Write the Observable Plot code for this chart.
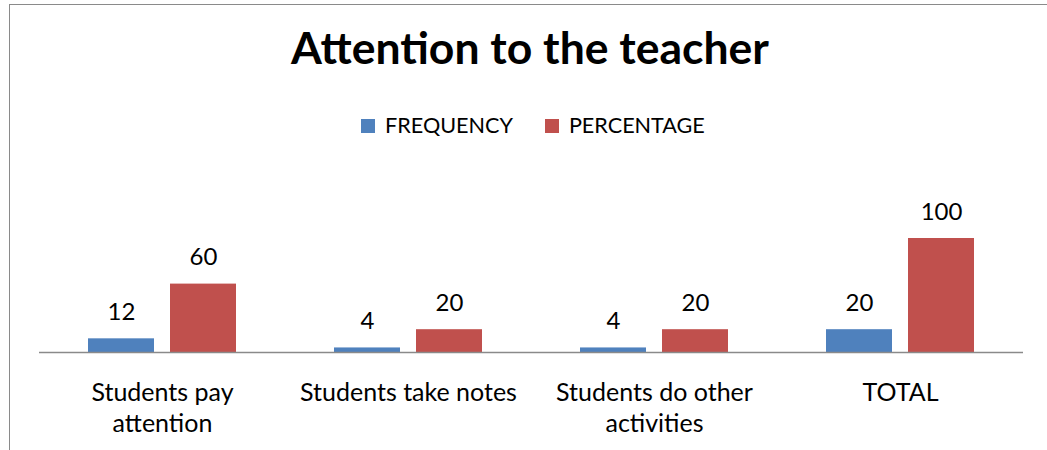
<!DOCTYPE html>
<html>
<head>
<meta charset="utf-8">
<script src="https://cdn.jsdelivr.net/npm/d3@7"></script>
<script src="https://cdn.jsdelivr.net/npm/@observablehq/plot@0.6"></script>
<style>
  html, body { margin:0; padding:0; background:#fff; overflow:hidden; width:1047px; height:450px; }
  #frame { position:absolute; left:9px; top:4px; width:1100px; height:520px; border:1px solid #8a8a8a; box-sizing:border-box; }
  #title { position:absolute; left:0; top:20px; width:1060px; text-align:center; font-family:Lato, sans-serif; font-weight:bold; font-size:44.5px; line-height:1.2; color:#000; }
  #legend { position:absolute; left:361px; top:113px; display:flex; align-items:center; font-family:Lato, sans-serif; font-size:21.6px; line-height:1.2; color:#000; white-space:nowrap; }
  #legend .sw { display:inline-block; width:14px; height:14px; margin-right:10px; }
  #legend .item { display:flex; align-items:center; margin-right:32px; }
  #chart { position:absolute; left:0; top:150px; }
</style>
</head>
<body>
<div id="frame"></div>
<div id="title">Attention to the teacher</div>
<div id="legend"></div>
<div id="chart"></div>
<script>
const categories = ["Students pay attention", "Students take notes", "Students do other activities", "TOTAL"];
const categoryLabels = ["Students pay\nattention", "Students take notes", "Students do other\nactivities", "TOTAL"];
const series = ["FREQUENCY", "PERCENTAGE"];
const frequency = [12, 4, 4, 20];
const percentage = [60, 20, 20, 100];
const colors = ["#4F81BD", "#C0504D"];

const data = categories.flatMap((c, i) => [
  {category: c, series: series[0], value: frequency[i]},
  {category: c, series: series[1], value: percentage[i]}
]);

// legend
const legend = document.getElementById("legend");
series.forEach((s, i) => {
  const item = document.createElement("span");
  item.className = "item";
  const sw = document.createElement("span");
  sw.className = "sw";
  sw.style.background = colors[i];
  item.appendChild(sw);
  item.appendChild(document.createTextNode(s));
  legend.appendChild(item);
});

const chart = Plot.plot({
  width: 1047,
  height: 300,
  marginLeft: 38,
  marginRight: 24,
  marginTop: 88,
  marginBottom: 98,
  style: {fontFamily: "Lato, sans-serif", fontSize: "24px", color: "#000", background: "transparent", overflow: "visible"},
  fx: {domain: categories, padding: 0, label: null},
  x: {domain: series, paddingInner: 16 / 82, paddingOuter: 49 / 82, axis: null},
  y: {domain: [0, 100], axis: null},
  color: {domain: series, range: colors},
  marks: [
    Plot.barY(data, {fx: "category", x: "series", y: "value", fill: "series"}),
    Plot.ruleY([0], {stroke: "#8a8a8a", strokeWidth: 1.5}),
    Plot.text(data, {fx: "category", x: "series", y: "value", text: d => String(d.value), lineAnchor: "bottom", dy: -19, fontSize: 24, fill: "#000"}),
    Plot.axisFx({anchor: "bottom", tickSize: 0, tickPadding: 26, tickFormat: c => categoryLabels[categories.indexOf(c)], fontSize: 25, lineHeight: 1.26, label: null})
  ]
});
document.getElementById("chart").appendChild(chart);
</script>
</body>
</html>
